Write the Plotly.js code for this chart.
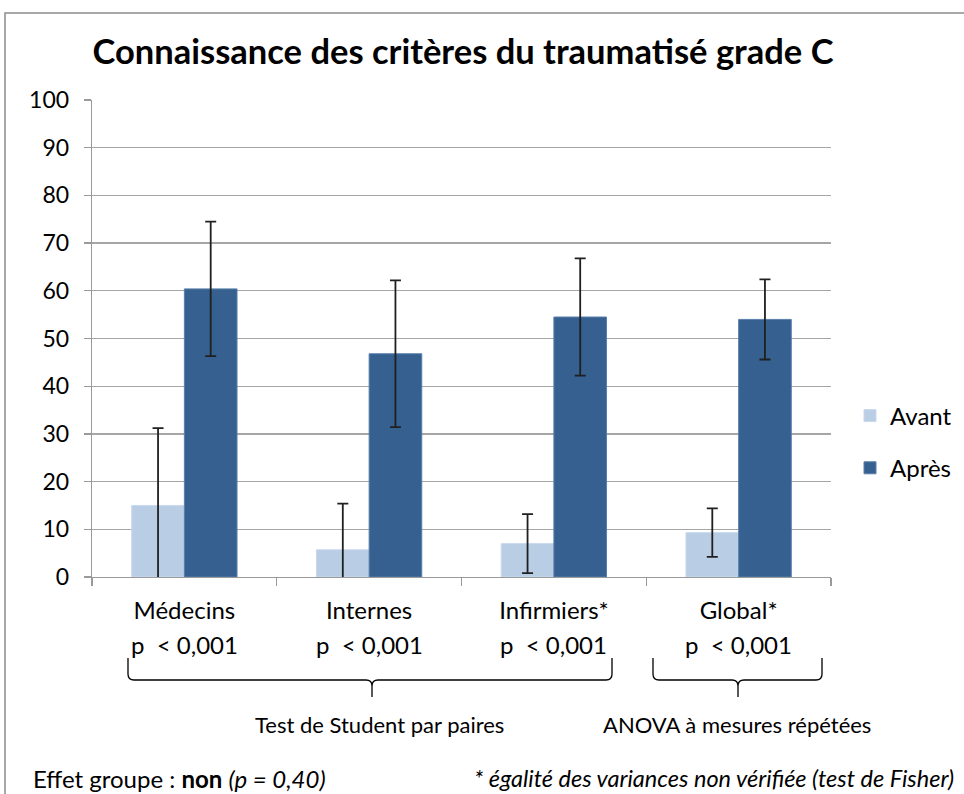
<!DOCTYPE html>
<html>
<head>
<meta charset="utf-8">
<script src="https://cdn.plot.ly/plotly-3.0.1.min.js"></script>
<style>html,body{margin:0;padding:0;background:#fff;}#chart{width:964px;height:794px;}</style>
</head>
<body>
<div id="chart"></div>
<script>
const categories = ['Médecins', 'Internes', 'Infirmiers*', 'Global*'];
const avant = [15.0, 5.7, 7.0, 9.3];
const avantErr = [16.2, 9.7, 6.2, 5.1];
const apres = [60.4, 46.8, 54.5, 54.0];
const apresErr = [14.1, 15.4, 12.3, 8.4];
const pLabels = ['p\u00a0 < 0,001', 'p\u00a0 < 0,001', 'p\u00a0 < 0,001', 'p\u00a0 < 0,001'];
const seriesNames = ['Avant', 'Après'];

const FONT = 'Lato, "Open Sans", sans-serif';
const W = 964, H = 794;
const L = 92, R = 831, T = 100, B = 577;
const px = x => (x - L) / (R - L);
const py = y => (B - y) / (B - T);
function brace(x0, x1, xc, yTop, yH, yTip) {
  const r = 6;
  const p = (x, y) => px(x).toFixed(5) + ',' + py(y).toFixed(5);
  return 'M' + p(x0, yTop) + ' L' + p(x0, yH - r) + ' Q' + p(x0, yH) + ' ' + p(x0 + r, yH) +
    ' L' + p(xc - r, yH) + ' Q' + p(xc, yH) + ' ' + p(xc, yH + r) + ' L' + p(xc, yTip) +
    ' M' + p(xc, yH + r) + ' Q' + p(xc, yH) + ' ' + p(xc + r, yH) +
    ' L' + p(x1 - r, yH) + ' Q' + p(x1, yH) + ' ' + p(x1, yH - r) + ' L' + p(x1, yTop);
}

const errStyle = {type: 'data', symmetric: true, color: '#202020', thickness: 1.8, width: 5.5};
const traces = [
  {type: 'bar', name: seriesNames[0], x: categories, y: avant, legendgroup: 'a',
   marker: {color: '#b9cde5', line: {color: '#c9d8ec', width: 1}},
   error_y: Object.assign({array: avantErr}, errStyle)},
  {type: 'bar', name: seriesNames[1], x: categories, y: apres, legendgroup: 'b',
   marker: {color: '#35608f', line: {color: '#5a7fab', width: 1}},
   error_y: Object.assign({array: apresErr}, errStyle)}
];

const annotations = categories.map((c, i) => ({
  xref: 'x', yref: 'paper', x: i, y: py(644), text: pLabels[i], showarrow: false,
  xanchor: 'center', yanchor: 'middle', font: {family: FONT, size: 24, color: '#000'}
}));
annotations.push(
  {xref: 'paper', yref: 'paper', x: px(379), y: py(724), text: 'Test de Student par paires', showarrow: false,
   xanchor: 'center', yanchor: 'middle', font: {family: FONT, size: 22, color: '#000'}},
  {xref: 'paper', yref: 'paper', x: px(737), y: py(724), text: 'ANOVA à mesures répétées', showarrow: false,
   xanchor: 'center', yanchor: 'middle', font: {family: FONT, size: 22, color: '#000'}},
  {xref: 'paper', yref: 'paper', x: px(31), y: py(778), text: 'Effet groupe : <b>non</b> <i>(p = 0,40)</i>', showarrow: false,
   xanchor: 'left', yanchor: 'middle', font: {family: FONT, size: 24, color: '#000'}},
  {xref: 'paper', yref: 'paper', x: px(956), y: py(778), text: '<i>* égalité des variances non vérifiée (test de Fisher)</i>', showarrow: false,
   xanchor: 'right', yanchor: 'middle', font: {family: FONT, size: 23.5, color: '#000'}}
);

const shapes = [
  {type: 'rect', xref: 'paper', yref: 'paper', x0: px(5), x1: px(980), y0: py(13), y1: py(810),
   line: {color: '#8c8c8c', width: 1.5}, fillcolor: 'rgba(0,0,0,0)', layer: 'below'},
  {type: 'path', xref: 'paper', yref: 'paper', path: brace(128, 612, 372, 658, 680, 697),
   line: {color: '#000', width: 1.3}},
  {type: 'path', xref: 'paper', yref: 'paper', path: brace(653, 822, 738, 658, 680, 697),
   line: {color: '#000', width: 1.3}}
];

const layout = {
  width: W, height: H,
  margin: {l: L, r: W - R, t: T, b: H - B, pad: 0, autoexpand: false},
  paper_bgcolor: '#fff', plot_bgcolor: '#fff',
  font: {family: FONT, size: 20, color: '#000'},
  title: {text: '<b>Connaissance des critères du traumatisé grade C</b>', x: 463 / W, xanchor: 'center',
          y: 1 - 52 / H, yanchor: 'middle', yref: 'container', font: {family: FONT, size: 34.5, color: '#000'}},
  barmode: 'group', bargap: 0.43, bargroupgap: 0,
  xaxis: {type: 'category', tickson: 'boundaries', ticks: 'outside', ticklen: 8, tickcolor: '#9a9a9a', tickwidth: 1.3,
          showline: true, linecolor: '#9a9a9a', linewidth: 1.3, showgrid: false, zeroline: false,
          tickfont: {family: FONT, size: 24, color: '#000'}, ticklabelstandoff: 12, fixedrange: true},
  yaxis: {range: [0, 100], dtick: 10, tick0: 0, ticks: 'outside', ticklen: 7, tickcolor: '#9a9a9a', tickwidth: 1.3,
          showline: true, linecolor: '#9a9a9a', linewidth: 1.3, showgrid: true, gridcolor: '#a6a6a6', gridwidth: 1.3,
          zeroline: false, tickfont: {family: FONT, size: 23, color: '#000'}, ticklabelstandoff: 10},
  legend: {x: px(850), xanchor: 'left', y: py(442), yanchor: 'middle', traceorder: 'grouped', tracegroupgap: 18,
           font: {family: FONT, size: 24, color: '#000'}, bgcolor: 'rgba(0,0,0,0)'},
  annotations: annotations,
  shapes: shapes,
  showlegend: true
};

Plotly.newPlot('chart', traces, layout, {displayModeBar: false, staticPlot: true});
</script>
</body>
</html>
